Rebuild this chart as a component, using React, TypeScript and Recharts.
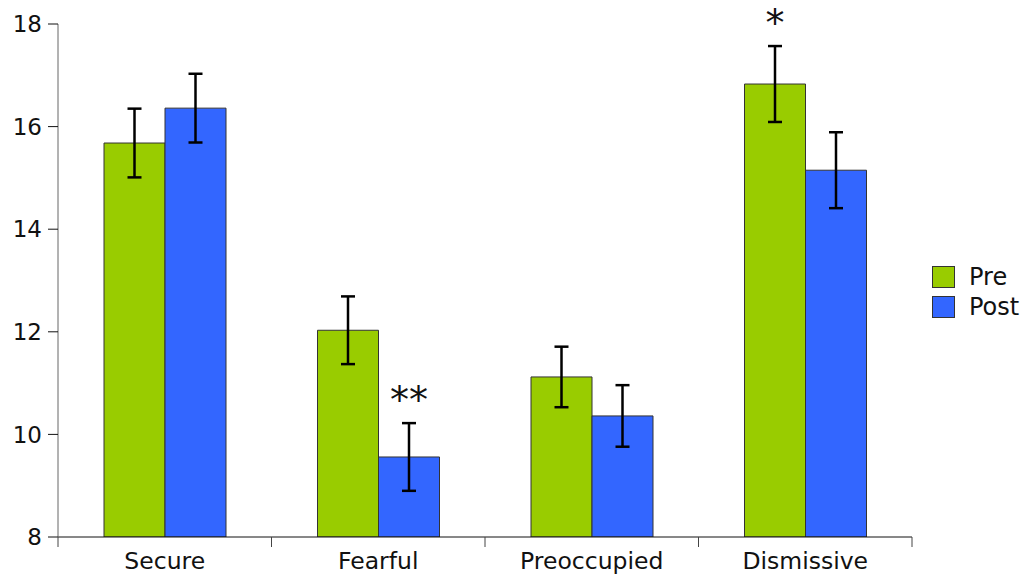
import { Bar, BarChart, ErrorBar, LabelList, Legend, XAxis, YAxis } from 'recharts'

const categories = ['Secure', 'Fearful', 'Preoccupied', 'Dismissive']
const preValues = [15.68, 12.03, 11.12, 16.83]
const postValues = [16.36, 9.56, 10.36, 15.15]
const preErrors = [0.67, 0.66, 0.59, 0.74]
const postErrors = [0.67, 0.66, 0.6, 0.74]
const preSig = ['', '', '', '*']
const postSig = ['', '**', '', '']
const yTicks = [8, 10, 12, 14, 16, 18]

const GREEN = '#99cc00'
const BLUE = '#3366ff'
const FONT = '"DejaVu Sans", sans-serif'

const WIDTH = 1022
const HEIGHT = 576
const Y_AXIS_W = 58
const X_AXIS_H = 39
const TOP = 24
const LEGEND_W = 110
const RIGHT = 0
const PLOT_W = WIDTH - Y_AXIS_W - LEGEND_W - RIGHT
const PLOT_H = HEIGHT - TOP - X_AXIS_H
const Y_MIN = 8
const Y_MAX = 18
const PX_PER_UNIT = PLOT_H / (Y_MAX - Y_MIN)
const BAND = PLOT_W / categories.length

const data = categories.map((name, i) => ({
  name,
  pre: preValues[i],
  post: postValues[i],
  preErr: preErrors[i],
  postErr: postErrors[i],
  preSig: preSig[i],
  postSig: postSig[i],
}))

// category ticks sit at the band edges, labels at the band centre
const CategoryTick = (props: any) => {
  const { x, y, payload, index } = props
  const left = x - BAND / 2
  const right = x + BAND / 2
  return (
    <g>
      <line x1={left} y1={y - 8} x2={left} y2={y + 2} stroke="#444" strokeWidth={1} />
      {index === categories.length - 1 && (
        <line x1={right} y1={y - 8} x2={right} y2={y + 2} stroke="#444" strokeWidth={1} />
      )}
      <text x={x} y={y + 24} textAnchor="middle" fontSize={23.5} fontFamily={FONT} fill="#111">
        {payload.value}
      </text>
    </g>
  )
}

const sigLabel = (errors: number[]) => (props: any) => {
  const { x, y, width, value, index } = props
  if (!value) return null
  const top = y - errors[index] * PX_PER_UNIT
  return (
    <text
      x={x + width / 2}
      y={top - 10}
      textAnchor="middle"
      fontSize={38}
      fontFamily={FONT}
      fill="#111"
    >
      {value}
    </text>
  )
}

const LegendBox = () => (
  <div
    style={{
      width: LEGEND_W,
      paddingLeft: 20,
      paddingTop: 8,
      boxSizing: 'border-box',
      fontFamily: FONT,
    }}
  >
    {[
      { label: 'Pre', color: GREEN },
      { label: 'Post', color: BLUE },
    ].map((item) => (
      <div key={item.label} style={{ display: 'flex', alignItems: 'center', height: 30 }}>
        <span
          style={{
            display: 'inline-block',
            flexShrink: 0,
            width: 23,
            height: 22,
            background: item.color,
            border: '1px solid #333',
            boxSizing: 'border-box',
            marginRight: 14,
          }}
        />
        <span style={{ fontSize: 24, color: '#111', whiteSpace: 'nowrap' }}>{item.label}</span>
      </div>
    ))}
  </div>
)

export default function App() {
  return (
    <div style={{ position: 'absolute', left: 0, top: 0, background: '#fff' }}>
      <BarChart
        width={WIDTH}
        height={HEIGHT}
        data={data}
        margin={{ top: TOP, right: RIGHT, bottom: 0, left: 0 }}
        barGap={0}
        barSize={61}
      >
        <XAxis
          dataKey="name"
          height={X_AXIS_H}
          stroke="#111"
          tickLine={false}
          tick={<CategoryTick />}
          interval={0}
        />
        <YAxis
          width={Y_AXIS_W}
          domain={[Y_MIN, Y_MAX]}
          ticks={yTicks}
          allowDataOverflow
          stroke="#666"
          tickSize={10}
          tickMargin={6}
          tickLine={{ stroke: '#111' }}
          tick={{ fontSize: 23, fontFamily: FONT, fill: '#111' }}
        />
        <Legend
          layout="vertical"
          align="right"
          verticalAlign="middle"
          content={<LegendBox />}
        />
        <Bar dataKey="pre" fill={GREEN} stroke="#333" strokeWidth={1} isAnimationActive={false}>
          <ErrorBar dataKey="preErr" width={7} stroke="#000" strokeWidth={2.5} />
          <LabelList dataKey="preSig" content={sigLabel(preErrors)} />
        </Bar>
        <Bar dataKey="post" fill={BLUE} stroke="#333" strokeWidth={1} isAnimationActive={false}>
          <ErrorBar dataKey="postErr" width={7} stroke="#000" strokeWidth={2.5} />
          <LabelList dataKey="postSig" content={sigLabel(postErrors)} />
        </Bar>
      </BarChart>
    </div>
  )
}
